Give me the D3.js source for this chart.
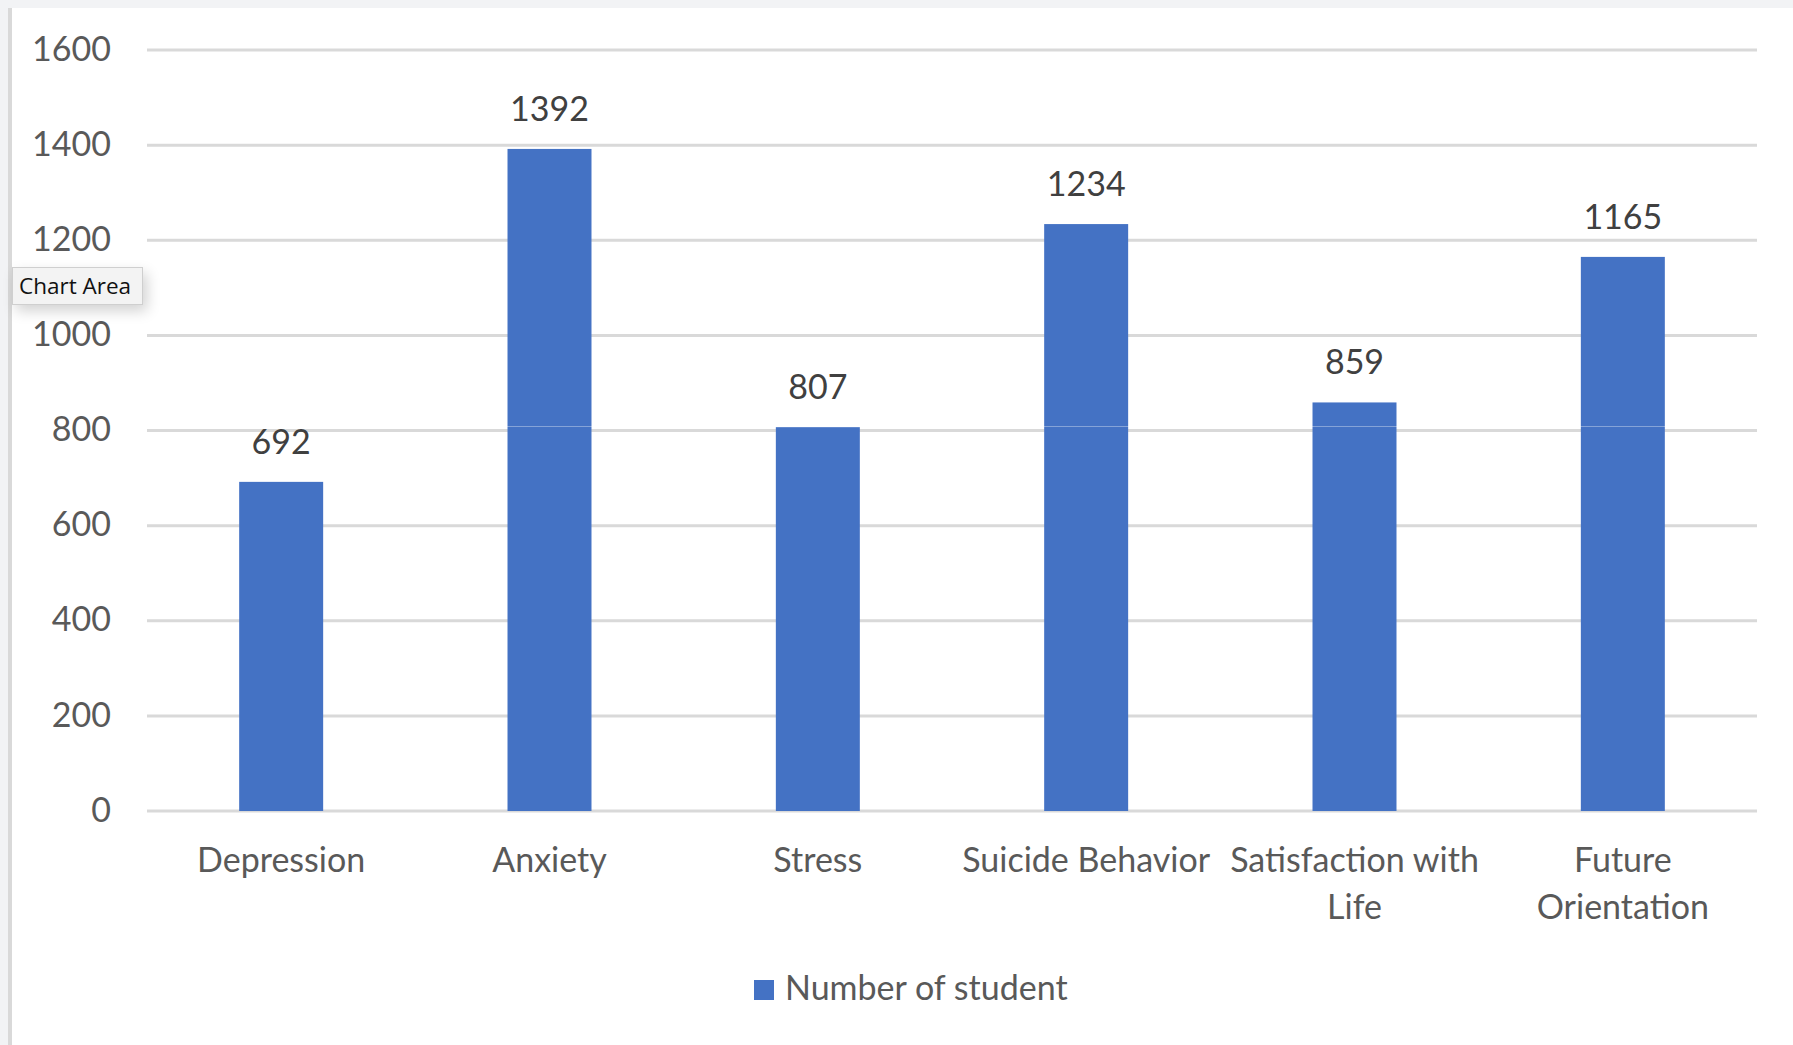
<!DOCTYPE html>
<html>
<head>
<meta charset="utf-8">
<script src="https://cdn.jsdelivr.net/npm/d3@7"></script>
<style>
  html, body { margin: 0; padding: 0; background: #ffffff; }
  #wrap { position: relative; width: 1793px; height: 1045px; overflow: hidden; }
  svg { position: absolute; left: 0; top: 0; }
  #tip {
    position: absolute; left: 12px; top: 267px; width: 131px; height: 38px;
    background: #f3f3f3; border: 1px solid #cfcfcf; box-sizing: border-box;
    font-family: "Open Sans", "Liberation Sans", sans-serif; font-size: 22.5px; color: #111111;
    line-height: 36px; padding-left: 6px; white-space: nowrap;
    box-shadow: 4px 6px 14px rgba(0,0,0,0.18);
  }
</style>
</head>
<body>
<div id="wrap">
  <svg id="chart" width="1793" height="1045"></svg>
  <div id="tip">Chart Area</div>
</div>
<script>
const categories = ["Depression", "Anxiety", "Stress", "Suicide Behavior", "Satisfaction with Life", "Future Orientation"];
const categoryLines = [["Depression"], ["Anxiety"], ["Stress"], ["Suicide Behavior"], ["Satisfaction with", "Life"], ["Future", "Orientation"]];
const values = [692, 1392, 807, 1234, 859, 1165];
const yTicks = [0, 200, 400, 600, 800, 1000, 1200, 1400, 1600];
const seriesName = "Number of student";

(function () {
const W = 1793, H = 1045;
const plotL = 147, plotR = 1757, plotT = 50, plotB = 811;
const font = "Lato, 'Open Sans', sans-serif";
const fs = 34;

const svg = d3.select("#chart");

// page frame
svg.append("rect").attr("x", 0).attr("y", 0).attr("width", W).attr("height", H).attr("fill", "#ffffff");
svg.append("rect").attr("x", 0).attr("y", 0).attr("width", W).attr("height", 8).attr("fill", "#f2f3f5");
svg.append("rect").attr("x", 0).attr("y", 0).attr("width", 8).attr("height", H).attr("fill", "#f2f3f5");
svg.append("rect").attr("x", 8).attr("y", 8).attr("width", 4).attr("height", H - 8).attr("fill", "#d9d9d9");

const x = d3.scaleBand().domain(categories).range([plotL, plotR]).paddingInner(0.687).paddingOuter(0.3435);
const y = d3.scaleLinear().domain([0, 1600]).range([plotB, plotT]);

// gridlines
svg.append("g").selectAll("line").data(yTicks).join("line")
  .attr("x1", plotL).attr("x2", plotR)
  .attr("y1", d => y(d)).attr("y2", d => y(d))
  .attr("stroke", "#d9d9d9").attr("stroke-width", 3);

// y axis labels
const yAxis = d3.axisLeft(y).tickValues(yTicks).tickFormat(d3.format("d")).tickSize(0).tickPadding(0);
const gy = svg.append("g").attr("transform", "translate(111,0)").call(yAxis);
gy.select(".domain").remove();
gy.selectAll("text").attr("font-family", font).attr("font-size", fs).attr("fill", "#595959")
  .attr("dy", "0.3em").attr("text-anchor", "end");

// bars
svg.append("g").selectAll("rect").data(values).join("rect")
  .attr("x", (d, i) => x(categories[i]))
  .attr("y", d => y(d))
  .attr("width", x.bandwidth())
  .attr("height", d => y(0) - y(d))
  .attr("fill", "#4472c4");

// data labels
svg.append("g").selectAll("text").data(values).join("text")
  .attr("x", (d, i) => x(categories[i]) + x.bandwidth() / 2)
  .attr("y", d => y(d) - 28)
  .attr("text-anchor", "middle")
  .attr("font-family", font).attr("font-size", fs).attr("fill", "#404040")
  .text(d => d);

// category labels
const gx = svg.append("g");
categories.forEach((c, i) => {
  const cx = x(c) + x.bandwidth() / 2;
  const t = gx.append("text")
    .attr("x", cx).attr("y", 872)
    .attr("text-anchor", "middle")
    .attr("font-family", font).attr("font-size", fs).attr("fill", "#595959");
  categoryLines[i].forEach((ln, j) => {
    t.append("tspan").attr("x", cx).attr("y", 872 + j * 46.5).text(ln);
  });
});

// faint screen artifact line
svg.append("line").attr("x1", plotL).attr("x2", W).attr("y1", 426.5).attr("y2", 426.5)
  .attr("stroke", "#ffffff").attr("stroke-opacity", 0.35).attr("stroke-width", 1);

// legend
const lg = svg.append("g");
lg.append("rect").attr("x", 754).attr("y", 980).attr("width", 20).attr("height", 20).attr("fill", "#4472c4");
lg.append("text").attr("x", 785).attr("y", 1000)
  .attr("font-family", font).attr("font-size", fs).attr("fill", "#595959")
  .text(seriesName);
})();
</script>
</body>
</html>
